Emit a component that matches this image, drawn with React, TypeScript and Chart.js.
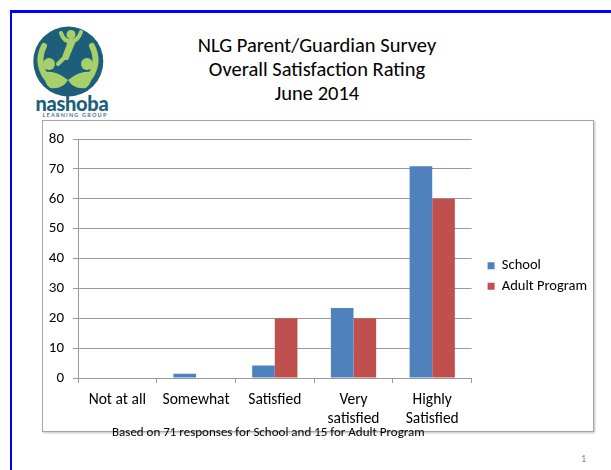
import React, { useEffect, useRef } from "react";
import { Chart, registerables } from "chart.js";

Chart.register(...registerables);

const categories: (string | string[])[] = [
  "Not at all",
  "Somewhat",
  "Satisfied",
  ["Very", "satisfied"],
  ["Highly", "Satisfied"],
];
const seriesNames = ["School", "Adult Program"];
const schoolValues = [0, 1.4, 4.2, 23.4, 70.9];
const adultValues = [0, 0, 20, 20, 60];
const yMin = 0;
const yMax = 80;
const yStep = 10;

const titleLines = ["NLG Parent/Guardian Survey", "Overall Satisfaction Rating", "June 2014"];
const footnote = "Based on 71 responses for School and 15 for Adult Program";

const FONT = "Carlito, Calibri, Lato, sans-serif";
const GRID = "#9a9a9a";
const BLUE = "#4F81BD";
const RED = "#C0504D";
const LEGEND_DX = 10;
const LEGEND_DY = -6;

const legendShift = {
  id: "legendShift",
  afterLayout(chart: any) {
    const l = chart.legend;
    if (l) {
      l.left += LEGEND_DX;
      l.right += LEGEND_DX;
      l.top += LEGEND_DY;
      l.bottom += LEGEND_DY;
    }
  },
};

function BarChart() {
  const ref = useRef<HTMLCanvasElement | null>(null);
  useEffect(() => {
    if (!ref.current) return;
    const chart = new Chart(ref.current, {
      type: "bar",
      data: {
        labels: categories as any,
        datasets: [
          {
            label: seriesNames[0],
            data: schoolValues,
            backgroundColor: BLUE,
            borderWidth: 0,
            categoryPercentage: 0.575,
            barPercentage: 1,
          },
          {
            label: seriesNames[1],
            data: adultValues,
            backgroundColor: RED,
            borderWidth: 0,
            categoryPercentage: 0.575,
            barPercentage: 1,
          },
        ],
      },
      options: {
        animation: false,
        responsive: false,
        maintainAspectRatio: false,
        devicePixelRatio: 1,
        layout: { padding: { top: 12, bottom: 0, left: 0, right: 6 } },
        plugins: {
          legend: {
            position: "right",
            labels: {
              boxWidth: 7,
              boxHeight: 7,
              padding: 6,
              color: "#000",
              font: { family: FONT, size: 14.5 },
            },
          },
          tooltip: { enabled: false },
          title: { display: false },
        },
        scales: {
          x: {
            grid: {
              display: true,
              drawOnChartArea: false,
              drawTicks: true,
              tickLength: 5,
              color: GRID,
              offset: true,
            },
            border: { display: true, color: GRID },
            ticks: {
              color: "#000",
              font: { family: FONT, size: 15.5, lineHeight: 1.2 },
              padding: 8,
              maxRotation: 0,
              autoSkip: false,
            },
            afterFit: (s: any) => {
              s.height = 53;
            },
          },
          y: {
            min: yMin,
            max: yMax,
            ticks: {
              stepSize: yStep,
              color: "#000",
              font: { family: FONT, size: 15 },
              padding: 9,
            },
            grid: { color: GRID, tickLength: 5 },
            border: { display: true, color: GRID },
            afterFit: (s: any) => {
              s.width = 35;
            },
          },
        },
      },
      plugins: [legendShift],
    });
    return () => chart.destroy();
  }, []);
  return <canvas ref={ref} width={550} height={310} style={{ display: "block", width: 550, height: 310 }} />;
}

function Logo() {
  const teal = "#1d5f7b";
  const green = "#a8d06a";
  return (
    <svg
      width={90}
      height={80}
      viewBox="25 20 90 80"
      style={{ position: "absolute", left: 25, top: 20 }}
    >
      <circle cx={68.3} cy={61.5} r={35} fill={teal} />
      <circle cx={71} cy={34.5} r={4.5} fill={green} />
      <path d="M61 33 Q 64 42 71 41 Q 78 41 81 32" stroke={green} strokeWidth={4} fill="none" strokeLinecap="round" />
      <path d="M68 41 L 76 41 L 68 60 L 61 60 Z" fill={green} />
      <path d="M64 58 L 58 64" stroke={green} strokeWidth={4} strokeLinecap="round" />
      <circle cx={49} cy={64} r={6} fill={green} />
      <path d="M44 46 Q 36 62 46 77" stroke={green} strokeWidth={6} fill="none" strokeLinecap="round" />
      <path d="M44 72 Q 56 70 68 80 Q 62 90 50 88 Q 43 82 44 72 Z" fill={green} />
      <circle cx={87} cy={64} r={6} fill={green} />
      <path d="M92 46 Q 100 62 90 77" stroke={green} strokeWidth={6} fill="none" strokeLinecap="round" />
      <path d="M92 72 Q 80 70 68 80 Q 74 90 86 88 Q 93 82 92 72 Z" fill={green} />
    </svg>
  );
}

export default function App() {
  return (
    <div
      style={{
        position: "absolute",
        left: 0,
        top: 0,
        width: 611,
        height: 470,
        overflow: "hidden",
        background: "#fff",
        fontFamily: FONT,
      }}
    >
      <div style={{ position: "absolute", left: 10, top: 10, width: 601, height: 3, background: "#0000ff" }} />
      <div style={{ position: "absolute", left: 10, top: 10, width: 2, height: 460, background: "#0000ff" }} />
      <Logo />
      <div
        style={{
          position: "absolute",
          left: 30,
          top: 93,
          width: 84,
          textAlign: "center",
          color: "#1d5f7b",
          fontFamily: "Lato, sans-serif",
          fontWeight: 900,
          fontSize: 20,
          lineHeight: "20px",
          letterSpacing: -0.3,
        }}
      >
        nashoba
      </div>
      <div
        style={{
          position: "absolute",
          left: 30,
          top: 112,
          width: 90,
          textAlign: "center",
          color: "#3b7a92",
          fontFamily: "Lato, sans-serif",
          fontWeight: 700,
          fontSize: 5.5,
          lineHeight: "6px",
          letterSpacing: 1.2,
          whiteSpace: "nowrap",
        }}
      >
        LEARNING GROUP
      </div>
      <div
        style={{
          position: "absolute",
          left: 117,
          top: 33,
          width: 400,
          textAlign: "center",
          fontSize: 20.5,
          lineHeight: "24px",
          color: "#000",
          whiteSpace: "nowrap",
        }}
      >
        {titleLines.map((t, i) => (
          <div key={i}>{t}</div>
        ))}
      </div>
      <div
        style={{
          position: "absolute",
          left: 42,
          top: 120,
          width: 552,
          height: 312,
          boxSizing: "border-box",
          border: "1px solid #a6a6a6",
          boxShadow: "1px 1px 2px rgba(0,0,0,0.25)",
          background: "#fff",
        }}
      >
        <BarChart />
      </div>
      <div
        style={{
          position: "absolute",
          left: 112,
          top: 424,
          fontSize: 13,
          lineHeight: "16px",
          color: "#000",
          whiteSpace: "nowrap",
        }}
      >
        {footnote}
      </div>
      <div
        style={{
          position: "absolute",
          left: 581,
          top: 453,
          fontSize: 10,
          lineHeight: "12px",
          color: "#8a8a8a",
        }}
      >
        1
      </div>
    </div>
  );
}
